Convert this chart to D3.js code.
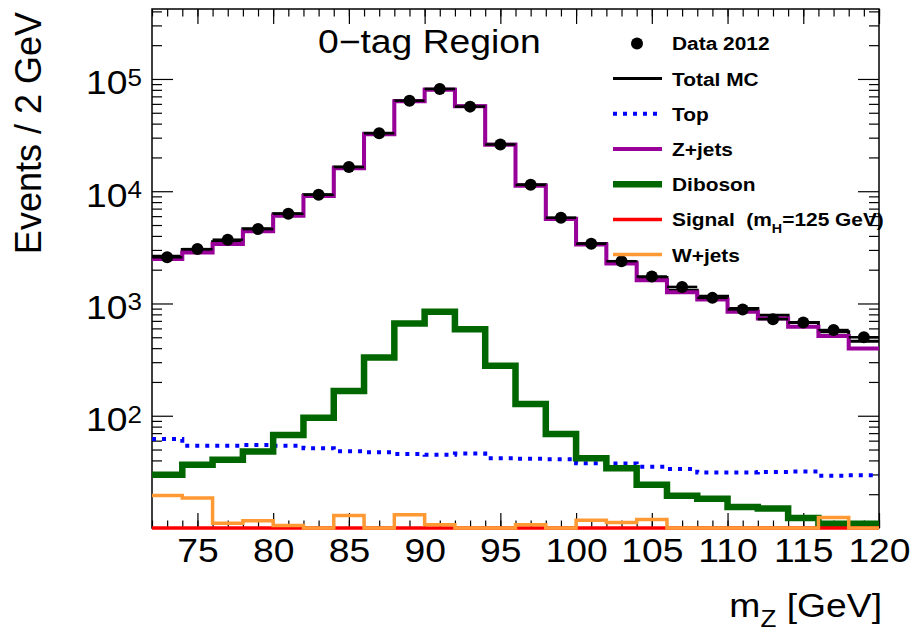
<!DOCTYPE html>
<html>
<head>
<meta charset="utf-8">
<script src="https://cdn.jsdelivr.net/npm/d3@7"></script>
<style>
  body { margin: 0; background: #fff; }
  svg { font-family: "Liberation Sans", Arial, Helvetica, sans-serif; }
  .axis line { stroke: #000; stroke-width: 1.2; }
  .legend-label { font-weight: bold; font-size: 19px; }
</style>
</head>
<body>
<svg id="chart"></svg>
<script>
// bins of 2 GeV, lower edges
const binLow = [72, 74, 76, 78, 80, 82, 84, 86, 88, 90, 92, 94, 96, 98, 100, 102, 104, 106, 108, 110, 112, 114, 116, 118];
const binWidth = 2;

const dataCounts = [2580, 3050, 3700, 4600, 6300, 9300, 16400, 32800, 64100, 81500, 56700, 26100, 11400, 5810, 3410, 2380, 1740, 1405, 1122, 885, 725, 677, 580, 500];
const totalMC    = [2630, 3020, 3540, 4640, 6300, 9300, 16400, 32900, 64000, 81000, 57500, 26200, 11400, 5750, 3420, 2345, 1700, 1312, 1161, 903, 787, 677, 560, 462];
const zJets      = [2490, 2840, 3380, 4400, 6050, 9060, 16000, 32200, 63300, 80000, 57000, 25900, 11200, 5650, 3350, 2270, 1610, 1260, 1086, 842, 736, 619, 512, 398];
const topBkg     = [62, 54, 54, 55, 54, 51.4, 48.3, 47.3, 45.7, 44.9, 46, 41.9, 41.3, 41, 37.8, 37.6, 35.2, 33.6, 31.2, 31.2, 31.5, 31.8, 29.2, 29.5];
const diboson    = [29.8, 36.6, 40.5, 48, 67.4, 96, 166, 331, 664, 842, 590, 279, 127, 68.9, 41.9, 34.1, 24.3, 19.4, 18.2, 15.4, 14.9, 12.3, 10.9, 10.9];
const signalH    = [0.3, 0.3, 0.4, 0.5, 0.6, 0.9, 1.4, 2.5, 4.2, 5.1, 3.6, 1.8, 0.9, 0.5, 0.4, 0.3, 0.3, 0.2, 0.2, 0.2, 0.2, 0.1, 0.1, 0.1];
const wJets      = [19.5, 18.5, 11, 11.6, 10.5, 0, 12.9, 0, 13.1, 10.7, 0, 0, 10.7, 0, 11.7, 11.2, 11.9, 0, 0, 0, 0, 0, 12.4, 0];

const xTickLabels = [75, 80, 85, 90, 95, 100, 105, 110, 115, 120];
const yTickLabels = [100, 1000, 10000, 100000];

class ZMassPlot {

    constructor(_config) {
        this.config = {
            parentElement: _config.parentElement,
            containerWidth: _config.containerWidth || 915,
            containerHeight: _config.containerHeight || 635,
            margin: { top: 9, bottom: 107, right: 36, left: 152 }
        }
        this.initVis();
    }

    initVis() {
        let vis = this;

        vis.width = vis.config.containerWidth - vis.config.margin.left - vis.config.margin.right;
        vis.height = vis.config.containerHeight - vis.config.margin.top - vis.config.margin.bottom;
        vis.sx = 1.13; // fonts are a bit wide in the original

        vis.svg = d3.select(vis.config.parentElement)
            .attr('width', vis.config.containerWidth)
            .attr('height', vis.config.containerHeight);

        vis.chart = vis.svg.append('g')
            .attr('transform', `translate(${vis.config.margin.left}, ${vis.config.margin.top})`);

        vis.xScale = d3.scaleLinear()
            .domain([72, 120])
            .range([0, vis.width]);
        vis.yScale = d3.scaleLog()
            .domain([10, 4.2e5])
            .range([vis.height, 0])
            .clamp(true);

        vis.yValue = d => vis.yScale(Math.max(d, 1));

        vis.drawAxes();
        vis.renderVis();
        vis.drawLegend();
    }

    drawAxes() {
        let vis = this;
        const minorX = d3.range(72, 121, 1);
        const minorY = [];
        [10, 100, 1000, 10000, 100000].forEach(dec => {
            for (let m = 2; m <= 9; m++) if (dec * m < 4.2e5) minorY.push(dec * m);
        });

        const noDomain = g => g.select('.domain').remove();

        // bottom
        vis.xAxisGroup = vis.chart.append('g')
            .attr('class', 'axis x-axis')
            .attr('transform', `translate(0,${vis.height})`)
            .call(d3.axisBottom(vis.xScale).tickValues(xTickLabels).tickSizeInner(-15).tickSizeOuter(0).tickPadding(11))
            .call(noDomain);
        vis.xAxisGroup.selectAll('text')
            .attr('font-size', 33)
            .attr('fill', '#000')
            .attr('transform', `scale(${vis.sx},1)`);
        vis.chart.append('g')
            .attr('class', 'axis')
            .attr('transform', `translate(0,${vis.height})`)
            .call(d3.axisBottom(vis.xScale).tickValues(minorX).tickSizeInner(-7.5).tickSizeOuter(0).tickFormat(''))
            .call(noDomain);

        // top
        vis.chart.append('g')
            .attr('class', 'axis')
            .call(d3.axisTop(vis.xScale).tickValues(xTickLabels).tickSizeInner(-15).tickSizeOuter(0).tickFormat(''))
            .call(noDomain);
        vis.chart.append('g')
            .attr('class', 'axis')
            .call(d3.axisTop(vis.xScale).tickValues(minorX).tickSizeInner(-7.5).tickSizeOuter(0).tickFormat(''))
            .call(noDomain);

        // left
        vis.yAxisGroup = vis.chart.append('g')
            .attr('class', 'axis y-axis')
            .call(d3.axisLeft(vis.yScale).tickValues(yTickLabels).tickSizeInner(-21).tickSizeOuter(0).tickFormat(''))
            .call(noDomain);
        vis.chart.append('g')
            .attr('class', 'axis')
            .call(d3.axisLeft(vis.yScale).tickValues(minorY).tickSizeInner(-10).tickSizeOuter(0).tickFormat(''))
            .call(noDomain);

        // right
        vis.chart.append('g')
            .attr('class', 'axis')
            .attr('transform', `translate(${vis.width},0)`)
            .call(d3.axisRight(vis.yScale).tickValues(yTickLabels).tickSizeInner(-21).tickSizeOuter(0).tickFormat(''))
            .call(noDomain);
        vis.chart.append('g')
            .attr('class', 'axis')
            .attr('transform', `translate(${vis.width},0)`)
            .call(d3.axisRight(vis.yScale).tickValues(minorY).tickSizeInner(-10).tickSizeOuter(0).tickFormat(''))
            .call(noDomain);

        // 10^n labels
        const lbl = vis.yAxisGroup.selectAll('.tick').append('text')
            .attr('text-anchor', 'end')
            .attr('fill', '#000')
            .attr('font-size', 33)
            .attr('x', -10 / vis.sx)
            .attr('y', 15)
            .attr('transform', `scale(${vis.sx},1)`);
        lbl.append('tspan').text('10');
        lbl.append('tspan')
            .attr('font-size', 23)
            .attr('dy', -8.5)
            .text(d => Math.round(Math.log10(d)));

        // frame
        vis.chart.append('rect')
            .attr('width', vis.width)
            .attr('height', vis.height)
            .attr('fill', 'none')
            .attr('stroke', '#000')
            .attr('stroke-width', 1.5);

        // axis titles
        const xt = vis.svg.append('text')
            .attr('transform', `translate(882,617) scale(${vis.sx},1)`)
            .attr('text-anchor', 'end')
            .attr('font-size', 33);
        xt.append('tspan').text('m');
        xt.append('tspan').attr('font-size', 23).attr('dy', 10).text('Z');
        xt.append('tspan').attr('dy', -10).text(' [GeV]');

        vis.svg.append('text')
            .attr('transform', 'translate(41,12) rotate(-90)')
            .attr('text-anchor', 'end')
            .attr('font-size', 36)
            .text('Events / 2 GeV');

        // region label
        vis.svg.append('text')
            .attr('transform', `translate(318,53) scale(${vis.sx},1)`)
            .attr('font-size', 33)
            .text('0\u2212tag Region');
    }

    stepPath(values) {
        let vis = this;
        const pts = binLow.map((b, i) => [b, values[i]]);
        pts.push([binLow[binLow.length - 1] + binWidth, values[values.length - 1]]);
        return d3.line()
            .x(d => vis.xScale(d[0]))
            .y(d => vis.yValue(d[1]))
            .curve(d3.curveStepAfter)(pts);
    }

    renderVis() {
        let vis = this;

        vis.hists = [
            { key: 'total', values: totalMC, color: '#000000', width: 3 },
            { key: 'zjets', values: zJets, color: '#990099', width: 4 },
            { key: 'top', values: topBkg, color: '#0000ff', width: 4, dash: '4 6' },
            { key: 'diboson', values: diboson, color: '#006600', width: 6.5 },
            { key: 'signal', values: signalH, color: '#ff0000', width: 3.5 },
            { key: 'wjets', values: wJets, color: '#ff9933', width: 3.5 }
        ];

        vis.chart.selectAll('.hist')
            .data(vis.hists)
            .join('path')
                .attr('class', d => `hist hist-${d.key}`)
                .attr('d', d => vis.stepPath(d.values))
                .attr('fill', 'none')
                .attr('stroke', d => d.color)
                .attr('stroke-width', d => d.width)
                .attr('stroke-dasharray', d => d.dash || null);

        // data: x error bars + markers
        vis.chart.selectAll('.data-xerr')
            .data(dataCounts)
            .join('line')
                .attr('class', 'data-xerr')
                .attr('x1', (d, i) => vis.xScale(binLow[i]))
                .attr('x2', (d, i) => vis.xScale(binLow[i] + binWidth))
                .attr('y1', d => vis.yValue(d))
                .attr('y2', d => vis.yValue(d))
                .attr('stroke', '#000')
                .attr('stroke-width', 2.5);

        vis.chart.selectAll('.data-point')
            .data(dataCounts)
            .join('circle')
                .attr('class', 'data-point')
                .attr('cx', (d, i) => vis.xScale(binLow[i] + binWidth / 2))
                .attr('cy', d => vis.yValue(d))
                .attr('r', 6)
                .attr('fill', '#000');
    }

    drawLegend() {
        let vis = this;
        const entries = [
            { label: 'Data 2012', marker: true },
            { label: 'Total MC', hist: 'total' },
            { label: 'Top', hist: 'top' },
            { label: 'Z+jets', hist: 'zjets' },
            { label: 'Diboson', hist: 'diboson' },
            { label: 'Signal', hist: 'signal' },
            { label: 'W+jets', hist: 'wjets' }
        ];

        const leg = vis.svg.append('g').attr('class', 'legend');
        const rows = leg.selectAll('g')
            .data(entries)
            .join('g')
                .attr('transform', (d, i) => `translate(0,${43.4 + i * 35.2})`);

        rows.filter(d => d.marker).append('circle')
            .attr('cx', 637).attr('cy', 0).attr('r', 6).attr('fill', '#000');

        rows.filter(d => d.hist).append('line')
            .each(function(d) {
                const h = vis.hists.find(k => k.key === d.hist);
                d3.select(this)
                    .attr('x1', 613).attr('x2', 662).attr('y1', 0).attr('y2', 0)
                    .attr('stroke', h.color)
                    .attr('stroke-width', h.width)
                    .attr('stroke-dasharray', h.dash || null);
            });

        const txt = rows.append('text')
            .attr('class', 'legend-label')
            .attr('transform', `translate(672,7) scale(1.1,1)`);
        txt.filter(d => d.hist !== 'signal').text(d => d.label);

        const sig = txt.filter(d => d.hist === 'signal');
        sig.append('tspan').text('Signal\u00a0\u00a0(m');
        sig.append('tspan').attr('font-size', 13).attr('dy', 7).text('H');
        sig.append('tspan').attr('dy', -7).text('=125 GeV)');
    }
}

new ZMassPlot({ parentElement: '#chart' });
</script>
</body>
</html>
